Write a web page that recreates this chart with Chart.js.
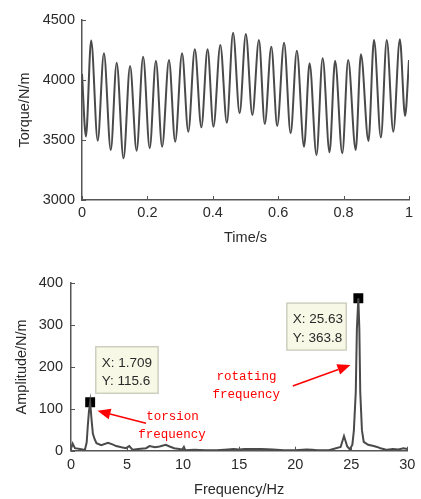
<!DOCTYPE html>
<html>
<head>
<meta charset="utf-8">
<script src="https://cdn.jsdelivr.net/npm/chart.js@4.4.1/dist/chart.umd.min.js"></script>
<style>
  html, body { margin: 0; padding: 0; background: #fff; }
  #wrap { position: relative; width: 421px; height: 499px; }
  canvas { position: absolute; left: 0; }
  #torqueChart { top: 0; }
  #spectrumChart { top: 250px; }
</style>
</head>
<body>
<div id="wrap">
  <canvas id="torqueChart" width="421" height="250"></canvas>
  <canvas id="spectrumChart" width="421" height="249"></canvas>
</div>
<script>
// Torque signal: peaks and troughs
const timeS = [0, 0.012, 0.028, 0.048, 0.067, 0.088, 0.106, 0.127, 0.147, 0.167,
  0.187, 0.207, 0.226, 0.245, 0.266, 0.285, 0.306, 0.325, 0.345, 0.365,
  0.384, 0.402, 0.423, 0.443, 0.462, 0.482, 0.501, 0.521, 0.541, 0.559,
  0.579, 0.597, 0.618, 0.638, 0.657, 0.679, 0.696, 0.717, 0.736, 0.757,
  0.774, 0.796, 0.814, 0.837, 0.853, 0.876, 0.893, 0.914, 0.932, 0.952,
  0.972, 0.988, 1.0];
const torque = [4050, 3530, 4330, 3494, 4222, 3417, 4144, 3347, 4117, 3411,
  4194, 3431, 4161, 3444, 4167, 3486, 4222, 3569, 4256, 3606,
  4256, 3610, 4292, 3644, 4394, 3722, 4383, 3708, 4333, 3633,
  4278, 3617, 4311, 3556, 4244, 3444, 4139, 3375, 4181, 3397,
  4161, 3389, 4167, 3417, 4214, 3492, 4333, 3522, 4333, 3569,
  4340, 3700, 4167];

// Amplitude spectrum
const freqHz = [0, 0.15, 0.35, 0.8, 1.24, 1.4, 1.5, 1.6, 1.709, 1.83,
  1.95, 2.1, 2.27, 2.7, 3.3, 3.7, 4.03, 4.5, 4.9, 5.2,
  5.5, 6.0, 6.7, 7.0, 7.5, 7.9, 8.45, 8.8, 9.2, 9.92,
  10.07, 10.2, 11, 12, 13, 14, 14.5, 15, 15.5, 16,
  17, 18, 19, 20, 21, 21.5, 22, 23, 24.05, 24.35,
  24.64, 24.88, 25.1, 25.23, 25.4, 25.5, 25.63, 25.72, 25.8, 25.95,
  26.11, 26.5, 27.0, 27.3, 27.6, 28.2, 28.7, 29.2, 29.65, 30];
const amplitude = [5, 17, 6, 4, 2, 20, 60, 93, 115.6, 75,
  41, 28, 18, 13, 19, 15, 11, 8, 6, 11,
  2, 4, 6, 11, 8, 10, 14, 10, 6, 3,
  9, 1, 2, 1, 1, 3, 4, 3, 4, 4,
  4, 3, 1, 1, 3, 2, 1, 1, 9, 35,
  10, 3, 15, 48, 140, 290, 363.8, 290, 140, 49,
  21, 14, 11, 9, 6, 2, 4, 3, 6, 4];

// Data tips
const tipFreq = [1.709, 25.63];
const tipAmp = [115.6, 363.8];
const tipLines = [['X: 1.709', 'Y: 115.6'], ['X: 25.63', 'Y: 363.8']];
// tip boxes in data units: [xLeft, yTop, xRight, yBottom]
const tipBoxes = [[2.21, 248, 7.77, 137], [19.25, 352, 24.55, 240]];

// Red notes and arrows (data units)
const noteTexts = ['torsion', 'frequency', 'rotating', 'frequency'];
const noteX = [6.71, 6.0, 12.98, 12.63];
const noteY = [80.4, 37.4, 176.5, 132.8];
const arrows = [[6.69, 65.3, 2.36, 95.4], [19.78, 154.3, 24.93, 204.4]];

const FONT = 'Liberation Sans, Arial, sans-serif';
const INK = '#2a2a2a';
const AXIS = '#555';

const toPoints = (xs, ys) => xs.map((v, i) => ({ x: v, y: ys[i] }));
const plain = v => String(+v.toFixed(3));

// MATLAB-style inward tick marks
const inwardTicks = {
  id: 'inwardTicks',
  afterDatasetsDraw(chart) {
    const { ctx, chartArea: a, scales: { x, y } } = chart;
    ctx.save();
    ctx.strokeStyle = AXIS;
    ctx.lineWidth = 1;
    ctx.beginPath();
    x.ticks.forEach(t => {
      const p = Math.round(x.getPixelForValue(t.value)) + 0.5;
      ctx.moveTo(p, a.bottom); ctx.lineTo(p, a.bottom - 4);
    });
    y.ticks.forEach(t => {
      const p = Math.round(y.getPixelForValue(t.value)) + 0.5;
      ctx.moveTo(a.left, p); ctx.lineTo(a.left + 4, p);
    });
    ctx.stroke();
    ctx.restore();
  }
};

function axis(opts) {
  return {
    type: 'linear',
    min: opts.min, max: opts.max,
    grid: { display: false, drawTicks: false },
    border: { display: true, color: AXIS, width: 1.5 },
    ticks: { stepSize: opts.step, color: INK, padding: opts.pad, callback: plain,
      font: { family: FONT, size: 14.5 } },
    title: { display: true, text: opts.title, color: INK, padding: opts.titlePad, font: { family: FONT, size: 14.5 } },
    afterFit: opts.fit
  };
}

// Top: torque vs time
new Chart(document.getElementById('torqueChart'), {
  type: 'line',
  data: {
    datasets: [{
      data: toPoints(timeS, torque),
      borderColor: '#4a4a4a',
      borderWidth: 2,
      pointRadius: 0,
      cubicInterpolationMode: 'monotone'
    }]
  },
  options: {
    responsive: false,
    animation: false,
    devicePixelRatio: 1,
    layout: { padding: { left: 0, right: 12, top: 20, bottom: 0 } },
    plugins: { legend: { display: false }, tooltip: { enabled: false } },
    scales: {
      x: axis({ min: 0, max: 1, step: 0.2, pad: 4.3, title: 'Time/s',
        titlePad: { top: 0, bottom: 3.3 }, fit: s => { s.height = 50; } }),
      y: axis({ min: 3000, max: 4500, step: 500, pad: 7, title: 'Torque/N/m',
        titlePad: { top: 16, bottom: 0 }, fit: s => { s.width = 82; } })
    }
  },
  plugins: [inwardTicks]
});

// Data tips, notes and arrows on the spectrum
const notes = {
  id: 'notes',
  afterDatasetsDraw(chart) {
    const { ctx, scales: { x, y } } = chart;
    const px = v => x.getPixelForValue(v);
    const py = v => y.getPixelForValue(v);
    ctx.save();

    tipBoxes.forEach((b, i) => {
      const l = px(b[0]), t = py(b[1]), r = px(b[2]), btm = py(b[3]);
      ctx.fillStyle = '#f8f8e6';
      ctx.strokeStyle = '#cfcfc0';
      ctx.lineWidth = 1.5;
      ctx.fillRect(l, t, r - l, btm - t);
      ctx.strokeRect(l, t, r - l, btm - t);
      ctx.fillStyle = INK;
      ctx.font = '13.5px ' + FONT;
      ctx.textBaseline = 'middle';
      ctx.textAlign = 'left';
      ctx.fillText(tipLines[i][0], l + 6, t + 16.5);
      ctx.fillText(tipLines[i][1], l + 6, t + 35);
    });

    ctx.fillStyle = '#ff0000';
    ctx.font = '12.5px "Liberation Mono", "DejaVu Sans Mono", monospace';
    ctx.textBaseline = 'middle';
    noteTexts.forEach((s, i) => ctx.fillText(s, px(noteX[i]), py(noteY[i])));

    ctx.strokeStyle = '#ff0000';
    ctx.lineWidth = 1.5;
    arrows.forEach(a => {
      const x0 = px(a[0]), y0 = py(a[1]), x1 = px(a[2]), y1 = py(a[3]);
      const ang = Math.atan2(y1 - y0, x1 - x0);
      const len = 13, half = 5.5;
      const bx = x1 - len * Math.cos(ang), by = y1 - len * Math.sin(ang);
      ctx.beginPath();
      ctx.moveTo(x0, y0); ctx.lineTo(bx, by);
      ctx.stroke();
      ctx.beginPath();
      ctx.moveTo(x1, y1);
      ctx.lineTo(bx + half * Math.sin(ang), by - half * Math.cos(ang));
      ctx.lineTo(bx - half * Math.sin(ang), by + half * Math.cos(ang));
      ctx.closePath();
      ctx.fill();
    });
    ctx.restore();
  }
};

// Bottom: amplitude spectrum
new Chart(document.getElementById('spectrumChart'), {
  type: 'line',
  data: {
    datasets: [{
      data: toPoints(freqHz, amplitude),
      borderColor: '#4a4a4a',
      borderWidth: 2,
      pointRadius: 0,
      tension: 0
    }, {
      data: toPoints(tipFreq, tipAmp),
      showLine: false,
      pointStyle: 'rect',
      pointRadius: 7,
      backgroundColor: '#000',
      borderColor: '#000',
      borderWidth: 0
    }]
  },
  options: {
    responsive: false,
    animation: false,
    devicePixelRatio: 1,
    layout: { padding: { left: 0, right: 10.3, top: 33, bottom: 0 } },
    plugins: { legend: { display: false }, tooltip: { enabled: false } },
    scales: {
      x: axis({ min: 0, max: 30, step: 5, pad: 5.6, title: 'Frequency/Hz',
        titlePad: { top: 0, bottom: 0.3 }, fit: s => { s.height = 48.3; } }),
      y: axis({ min: 0, max: 400, step: 100, pad: 8, title: 'Amplitude/N/m',
        titlePad: { top: 13.3, bottom: 0 }, fit: s => { s.width = 71; } })
    }
  },
  plugins: [inwardTicks, notes]
});
</script>
</body>
</html>
